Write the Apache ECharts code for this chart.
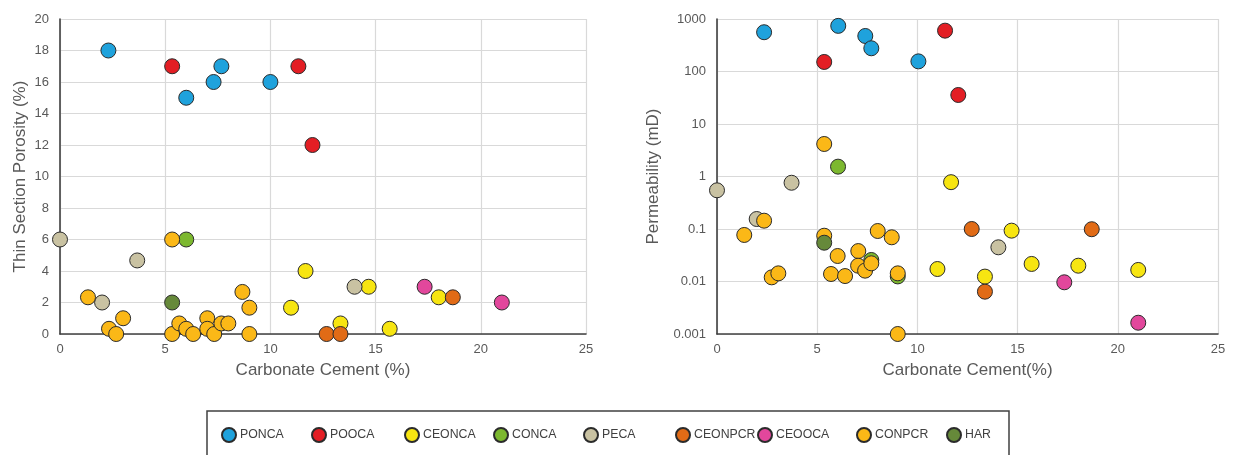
<!DOCTYPE html>
<html>
<head>
<meta charset="utf-8">
<script src="https://cdn.jsdelivr.net/npm/echarts@6/dist/echarts.min.js"></script>
<style>
html,body{margin:0;padding:0;background:#fff;}
#c{width:1235px;height:455px;}
</style>
</head>
<body>
<div id="c"></div>
<script>
// ---- Data ----
const seriesNames = ['PONCA','POOCA','CEONCA','CONCA','PECA','CEONPCR','CEOOCA','CONPCR','HAR'];
const xTicks = [0,5,10,15,20,25];
const porosityTicks = [0,2,4,6,8,10,12,14,16,18,20];
const permTicks = [0.001,0.01,0.1,1,10,100,1000];

// Left chart: carbonate cement (%) vs thin section porosity (%)
const PONCA_cementL = [2.3, 6.0, 7.3, 7.67, 10.0];
const PONCA_porosity = [18, 15, 16, 17, 16];
const POOCA_cementL = [5.33, 11.33, 12.0];
const POOCA_porosity = [17, 17, 12];
const CEONCA_cementL = [11.67, 10.98, 14.67, 18.0, 13.33, 15.67];
const CEONCA_porosity = [4, 1.67, 3, 2.33, 0.67, 0.33];
const CONCA_cementL = [6.0];
const CONCA_porosity = [6];
const PECA_cementL = [0, 3.67, 2.0, 14.0];
const PECA_porosity = [6, 4.67, 2, 3];
const CEONPCR_cementL = [18.67, 12.67, 13.33];
const CEONPCR_porosity = [2.33, 0, 0];
const CEOOCA_cementL = [17.33, 21.0];
const CEOOCA_porosity = [3, 2];
const CONPCR_cementL = [5.33, 1.33, 8.67, 9.0, 3.0, 2.33, 2.67, 5.33, 5.67, 6.0, 6.33, 7.0, 7.0, 7.33, 7.67, 8.0, 9.0];
const CONPCR_porosity = [6, 2.33, 2.67, 1.67, 1, 0.33, 0, 0, 0.67, 0.33, 0, 1, 0.33, 0, 0.67, 0.67, 0];
const HAR_cementL = [5.33];
const HAR_porosity = [2];

// Right chart: carbonate cement (%) vs permeability (mD)
const PONCA_cementR = [2.35, 6.05, 7.4, 7.7, 10.05];
const PONCA_perm = [560, 740, 475, 277, 156];
const POOCA_cementR = [5.35, 11.38, 12.04];
const POOCA_perm = [152, 600, 35.7];
const CEONCA_cementR = [11.68, 14.7, 11.0, 13.37, 15.7, 18.03, 21.02];
const CEONCA_perm = [0.78, 0.093, 0.0173, 0.0124, 0.0216, 0.02, 0.0166];
const CONCA_cementR = [6.04, 7.7, 9.02];
const CONCA_perm = [1.54, 0.0257, 0.0125];
const PECA_cementR = [0, 3.72, 1.98, 14.04];
const PECA_perm = [0.546, 0.76, 0.155, 0.0448];
const CEONPCR_cementR = [12.71, 18.7, 13.37];
const CEONPCR_perm = [0.1, 0.099, 0.0064];
const CEOOCA_cementR = [17.33, 21.02];
const CEOOCA_perm = [0.00966, 0.00164];
const CONPCR_cementR = [5.35, 2.35, 1.36, 2.73, 3.06, 5.35, 6.02, 5.69, 6.39, 7.05, 7.04, 7.39, 7.7, 8.02, 8.72, 9.02, 9.02];
const CONPCR_perm = [4.16, 0.144, 0.077, 0.012, 0.0143, 0.0745, 0.0306, 0.0139, 0.0127, 0.038, 0.02, 0.0161, 0.0222, 0.0916, 0.0695, 0.0143, 0.001];
const HAR_cementR = [5.35];
const HAR_perm = [0.0548];

// ---- Styles ----
const colors = {
  PONCA:'#1fa2dc', POOCA:'#e31e24', CEONCA:'#f7e511', CONCA:'#7cb82f', PECA:'#c9c2a2',
  CEONPCR:'#e16b16', CEOOCA:'#e2479c', CONPCR:'#fbb817', HAR:'#66893a'
};
const leftData = {
  PONCA:[PONCA_cementL,PONCA_porosity], POOCA:[POOCA_cementL,POOCA_porosity],
  CEONCA:[CEONCA_cementL,CEONCA_porosity], CONCA:[CONCA_cementL,CONCA_porosity],
  PECA:[PECA_cementL,PECA_porosity], CEONPCR:[CEONPCR_cementL,CEONPCR_porosity],
  CEOOCA:[CEOOCA_cementL,CEOOCA_porosity], CONPCR:[CONPCR_cementL,CONPCR_porosity],
  HAR:[HAR_cementL,HAR_porosity]
};
const rightData = {
  PONCA:[PONCA_cementR,PONCA_perm], POOCA:[POOCA_cementR,POOCA_perm],
  CEONCA:[CEONCA_cementR,CEONCA_perm], CONCA:[CONCA_cementR,CONCA_perm],
  PECA:[PECA_cementR,PECA_perm], CEONPCR:[CEONPCR_cementR,CEONPCR_perm],
  CEOOCA:[CEOOCA_cementR,CEOOCA_perm], CONPCR:[CONPCR_cementR,CONPCR_perm],
  HAR:[HAR_cementR,HAR_perm]
};
const zip = (a,b) => a.map((v,i)=>[v,b[i]]);

const FONT = '"Liberation Sans", Arial, sans-serif';
const labelColor = '#595959';
const axisLineStyle = {color:'#404040', width:1.6};
const gridLine = {show:true, lineStyle:{color:'#d9d9d9', width:1.2}};

const series = [];
seriesNames.forEach(n => {
  const common = {
    type:'scatter', name:n, symbol:'circle', symbolSize:15,
    itemStyle:{color:colors[n], borderColor:'#2b2b2b', borderWidth:1, opacity:1},
    emphasis:{disabled:true}
  };
  series.push(Object.assign({}, common, {xAxisIndex:0, yAxisIndex:0, data:zip(leftData[n][0], leftData[n][1])}));
  series.push(Object.assign({}, common, {xAxisIndex:1, yAxisIndex:1, data:zip(rightData[n][0], rightData[n][1])}));
});

const legendLefts = [221, 311, 404, 493, 583, 675, 757, 856, 946];
const legends = seriesNames.map((n,i) => ({
  data:[n], left:legendLefts[i], top:427, padding:0, icon:'circle',
  itemWidth:14, itemHeight:14, itemGap:0,
  textStyle:{fontFamily:FONT, fontSize:12.3, color:'#404040', padding:[0,0,0,-1]},
  selectedMode:false
}));

const xAxisCommon = (gridIndex, name) => ({
  type:'value', gridIndex, min:xTicks[0], max:xTicks[xTicks.length-1], interval:5,
  name, nameLocation:'middle', nameGap:28,
  nameTextStyle:{fontFamily:FONT, fontSize:17, color:labelColor},
  axisLine:{show:true, onZero:false, lineStyle:axisLineStyle},
  axisTick:{show:false},
  axisLabel:{fontFamily:FONT, fontSize:13, color:labelColor, margin:9},
  splitLine:gridLine
});

const option = {
  animation:false,
  backgroundColor:'#fff',
  legend:legends,
  grid:[
    {left:60, right:1235-586, top:19, bottom:455-334},
    {left:717, right:1235-1218, top:19, bottom:455-334}
  ],
  xAxis:[
    xAxisCommon(0, 'Carbonate Cement (%)'),
    xAxisCommon(1, 'Carbonate Cement(%)')
  ],
  yAxis:[
    {
      type:'value', gridIndex:0, min:porosityTicks[0], max:porosityTicks[porosityTicks.length-1], interval:2,
      name:'Thin Section Porosity (%)', nameLocation:'middle', nameGap:31,
      nameTextStyle:{fontFamily:FONT, fontSize:17, color:labelColor},
      axisLine:{show:true, lineStyle:axisLineStyle},
      axisTick:{show:false},
      axisLabel:{fontFamily:FONT, fontSize:13, color:labelColor, margin:11},
      splitLine:gridLine
    },
    {
      type:'log', logBase:10, gridIndex:1, min:permTicks[0], max:permTicks[permTicks.length-1], interval:1,
      name:'Permeability (mD)', nameLocation:'middle', nameGap:55,
      nameTextStyle:{fontFamily:FONT, fontSize:17, color:labelColor},
      axisLine:{show:true, lineStyle:axisLineStyle},
      axisTick:{show:false},
      axisLabel:{fontFamily:FONT, fontSize:13, color:labelColor, margin:11,
        formatter: v => String(+Number(v).toPrecision(6))},
      splitLine:gridLine
    }
  ],
  graphic:[
    {type:'rect', shape:{x:207, y:411, width:802, height:60},
     style:{fill:'none', stroke:'#404040', lineWidth:1.5}, z:-1}
  ],
  series
};

const chart = echarts.init(document.getElementById('c'), null, {renderer:'canvas'});
chart.setOption(option);
</script>
</body>
</html>
